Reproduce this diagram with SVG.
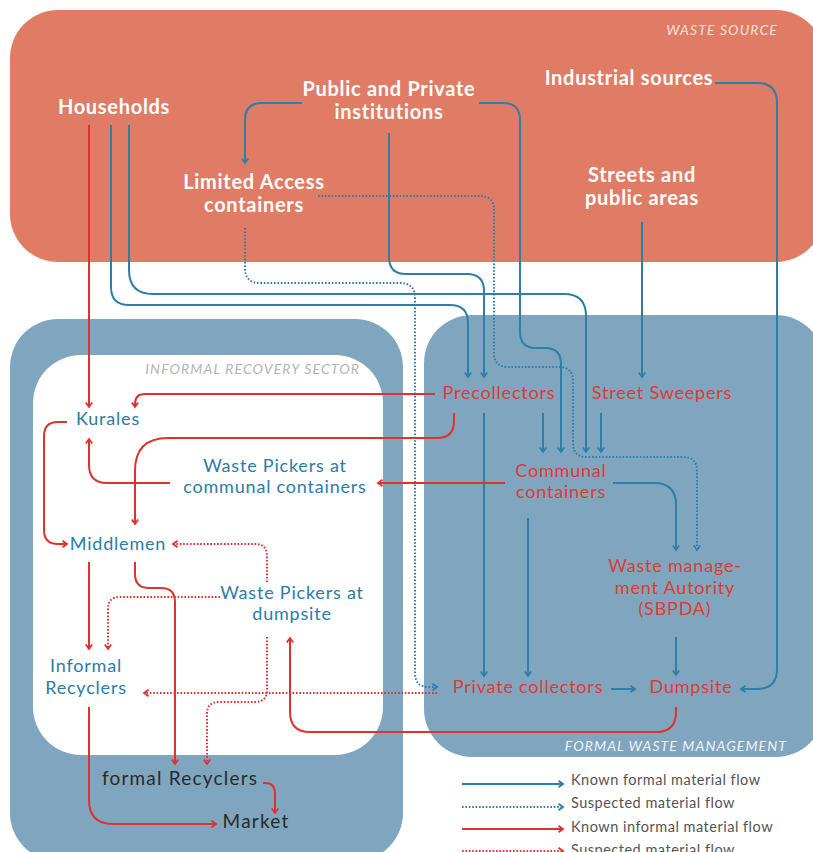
<svg xmlns="http://www.w3.org/2000/svg" width="813" height="852" viewBox="0 0 813 852">
<style>
.w{font-family:Lato,"Noto Sans",sans-serif;font-weight:bold;font-size:20px;letter-spacing:0.7px;fill:#fff;text-anchor:middle}
.r{font-family:Lato,"Noto Sans",sans-serif;font-size:18px;letter-spacing:0.8px;fill:#E03A30;text-anchor:middle}
.b{font-family:Lato,"Noto Sans",sans-serif;font-size:18px;letter-spacing:0.8px;fill:#2B7DA6;text-anchor:middle}
.k{font-family:Lato,"Noto Sans",sans-serif;font-size:19px;letter-spacing:1.2px;fill:#2A2A2A;text-anchor:middle}
.sec{font-family:Lato,"Noto Sans",sans-serif;font-style:italic;font-size:14px;letter-spacing:1.1px;text-anchor:end}
.lg{font-family:Lato,"Noto Sans",sans-serif;font-size:14.5px;fill:#555;letter-spacing:0.5px}
.bs{fill:none;stroke:#2E7FA7;stroke-width:2;marker-end:url(#ab)}
.bd{fill:none;stroke:#2E7FA7;stroke-width:2;stroke-dasharray:1.6 1.8;marker-end:url(#ab)}
.rs{fill:none;stroke:#E0312D;stroke-width:2;marker-end:url(#ar)}
.rd{fill:none;stroke:#E0312D;stroke-width:2;stroke-dasharray:1.6 1.8;marker-end:url(#ar)}
</style>
<defs>
<marker id="ab" markerWidth="10" markerHeight="10" refX="7" refY="5" orient="auto" markerUnits="userSpaceOnUse"><path d="M2.5,1.8 L7,5 L2.5,8.2" fill="none" stroke="#2E7FA7" stroke-width="1.8"/></marker>
<marker id="ar" markerWidth="10" markerHeight="10" refX="7" refY="5" orient="auto" markerUnits="userSpaceOnUse"><path d="M2.5,1.8 L7,5 L2.5,8.2" fill="none" stroke="#E0312D" stroke-width="1.8"/></marker>
</defs>
<rect width="813" height="852" fill="#fff"/>
<g id="areas">
<rect id="waste-source" x="10" y="10" width="814" height="252" rx="48" fill="#E07C65"/>
<rect id="formal-box" x="424" y="315" width="400" height="442" rx="48" fill="#7FA6BE"/>
<rect id="informal-outer" x="10" y="319" width="393" height="542" rx="48" fill="#7FA6BE"/>
<rect id="informal-inner" x="33" y="355" width="350" height="400" rx="48" fill="#fff"/>
<text class="sec" x="778" y="35" fill="#F7E0D8">WASTE SOURCE</text>
<text class="sec" x="360" y="374" fill="#B4B4B4">INFORMAL RECOVERY SECTOR</text>
<text class="sec" x="787" y="751" fill="#EEF3F7">FORMAL WASTE MANAGEMENT</text>
</g>
<g id="connectors">
<path class="bs" d="M111,125 V287 Q111,305 129,305 H450 Q468,305 468,323 V377"/>
<path class="bs" d="M129,125 V270 Q129,294 153,294 H564 Q586,294 586,316 V452"/>
<path class="bs" d="M302,103 H262 Q245,103 245,120 V163"/>
<path class="bs" d="M389,133 V257 Q389,274 406,274 H467 Q484,274 484,291 V377"/>
<path class="bs" d="M479,103 H503 Q520,103 520,120 V332 Q520,348 536,348 H545 Q561,348 561,364 V452"/>
<path class="bs" d="M642,222 V377"/>
<path class="bs" d="M715,83 H757 Q777,83 777,103 V669 Q777,689 757,689 H741"/>
<path class="bs" d="M543,413 V452"/>
<path class="bs" d="M601,413 V452"/>
<path class="bs" d="M484,413 V676"/>
<path class="bs" d="M528,518 V676"/>
<path class="bs" d="M613,483 H654 Q676,483 676,505 V550"/>
<path class="bs" d="M676,637 V675"/>
<path class="bs" d="M611,689 H635"/>
<path class="bd" d="M318,196 H480 Q494,196 494,210 V353 Q494,367 508,367 H559 Q573,367 573,381 V443 Q573,457 587,457 H683 Q697,457 697,471 V550"/>
<path class="bd" d="M245,228 V268 Q245,283 260,283 H400 Q415,283 415,298 V673 Q415,687 429,687 H437"/>
<path class="rs" d="M89,125 V407"/>
<path class="rs" d="M435,394 H145 Q135,394 135,404 V407"/>
<path class="rs" d="M454,413 V421 Q454,438 437,438 H168 Q135,438 135,471 V524"/>
<path class="rs" d="M505,483 H378"/>
<path class="rs" d="M170,483 H107 Q89,483 89,465 V439"/>
<path class="rs" d="M67,422 H58 Q44,422 44,436 V530 Q44,544 58,544 H67"/>
<path class="rs" d="M89,562 V649"/>
<path class="rs" d="M135,562 V574 Q135,588 149,588 H161 Q175,588 175,602 V764"/>
<path class="rs" d="M676,707 V712 Q676,732 656,732 H310 Q290,732 290,712 V638"/>
<path class="rs" d="M89,707 V800 Q89,824 113,824 H216"/>
<path class="rs" d="M263,783 H265 Q275,783 275,793 V813"/>
<path class="rd" d="M267,582 V556 Q267,544 255,544 H173"/>
<path class="rd" d="M220,597 H120 Q108,597 108,609 V649"/>
<path class="rd" d="M267,637 V690 Q267,702 255,702 H219 Q207,702 207,714 V764"/>
<path class="rd" d="M437,693 H144"/>
</g>
<g id="households"><text class="w" x="114" y="114">Households</text></g>
<g id="institutions"><text class="w" x="389" y="96">Public and Private</text><text class="w" x="389" y="119">institutions</text></g>
<g id="industrial"><text class="w" x="629" y="85">Industrial sources</text></g>
<g id="limited-access"><text class="w" x="254" y="189">Limited Access</text><text class="w" x="254" y="212">containers</text></g>
<g id="streets"><text class="w" x="642" y="182">Streets and</text><text class="w" x="642" y="205">public areas</text></g>
<g id="precollectors"><text class="r" x="499" y="399">Precollectors</text></g>
<g id="street-sweepers"><text class="r" x="662" y="399">Street Sweepers</text></g>
<g id="communal-containers"><text class="r" x="561" y="477">Communal</text><text class="r" x="561" y="498">containers</text></g>
<g id="sbpda"><text class="r" x="675" y="572">Waste manage-</text><text class="r" x="675" y="594">ment Autority</text><text class="r" x="675" y="615">(SBPDA)</text></g>
<g id="private-collectors"><text class="r" x="528" y="693">Private collectors</text></g>
<g id="dumpsite"><text class="r" x="691" y="693">Dumpsite</text></g>
<g id="kurales"><text class="b" x="108" y="425">Kurales</text></g>
<g id="wp-communal"><text class="b" x="275" y="472">Waste Pickers at</text><text class="b" x="275" y="493">communal containers</text></g>
<g id="middlemen"><text class="b" x="118" y="550">Middlemen</text></g>
<g id="wp-dumpsite"><text class="b" x="292" y="599">Waste Pickers at</text><text class="b" x="292" y="620">dumpsite</text></g>
<g id="informal-recyclers"><text class="b" x="86" y="672">Informal</text><text class="b" x="86" y="694">Recyclers</text></g>
<g id="formal-recyclers"><text class="k" x="180" y="785">formal Recyclers</text></g>
<g id="market"><text class="k" x="256" y="828">Market</text></g>
<g id="legend">
<path class="bs" d="M462,784 H563"/>
<path class="bd" d="M462,807 H563"/>
<path class="rs" d="M462,829 H563"/>
<path class="rd" d="M462,851 H563"/>
<text class="lg" x="571" y="785">Known formal material flow</text>
<text class="lg" x="571" y="808">Suspected material flow</text>
<text class="lg" x="571" y="832">Known informal material flow</text>
<text class="lg" x="571" y="855">Suspected material flow</text>
</g>
</svg>
